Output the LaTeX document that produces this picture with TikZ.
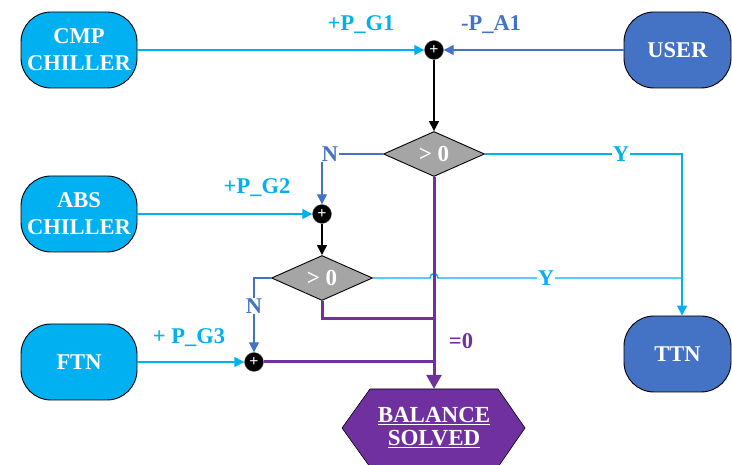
\documentclass[tikz,border=0pt]{standalone}
\usepackage{fontspec}
\setmainfont{Liberation Serif}
\usetikzlibrary{shapes.geometric,arrows.meta}
\definecolor{cyanc}{HTML}{00B0F0}
\definecolor{bluec}{HTML}{4472C4}
\definecolor{purc}{HTML}{7030A0}
\definecolor{grayc}{HTML}{A5A5A5}
\tikzset{
  term/.style={draw=black, line width=0.9pt, rounded corners=30pt, minimum width=116pt, minimum height=76pt,
    inner sep=0pt, align=center, text=white, font=\bfseries\fontsize{22.5}{27}\selectfont},
  cterm/.style={term, fill=cyanc},
  bterm/.style={term, fill=bluec},
  dec/.style={diamond, draw=black, line width=0.9pt, fill=grayc, aspect=2.24, minimum width=101pt, minimum height=45pt,
    inner sep=0pt, text=white, font=\bfseries\fontsize{23}{26}\selectfont},
  sumc/.style={circle, fill=black, draw=black!60, line width=0.4pt, minimum size=19pt, inner sep=0pt, text=white,
    font=\bfseries\fontsize{16}{16}\selectfont},
  lbl/.style={inner sep=1pt, font=\bfseries\fontsize{22.5}{26}\selectfont},
  thin/.style={line width=1.4pt, -{Triangle[length=10pt,width=10pt]}},
  thick/.style={line width=3pt, draw=purc},
}
\begin{document}
\begin{tikzpicture}[x=1pt,y=-1pt]
\useasboundingbox (0,0) rectangle (732,465);
% terminals
\node[cterm] (cmp) at (79,50) {CMP\\CHILLER};
\node[cterm] (abs) at (79,214) {ABS\\CHILLER};
\node[cterm] (ftn) at (79,362) {FTN};
\node[bterm, minimum width=107pt] (user) at (677.5,50) {USER};
\node[bterm, minimum width=107pt] (ttn) at (677.5,354) {TTN};
% sums
\node[sumc] (s1) at (434,50) {+};
\node[sumc] (s2) at (322,214) {+};
\node[sumc] (s3) at (254,362) {+};
% decisions
\node[dec] (d1) at (434,154) {> 0};
\node[dec] (d2) at (322,278) {> 0};
% balance
\node[minimum width=183pt, minimum height=78pt, inner sep=0pt] (bal) at (434,428) {};
\fill[purc, draw=black, line width=0.6pt] (370,389) -- (498,389) -- (525,428) -- (498,467) -- (370,467) -- (342,428) -- cycle;
\node[align=center, text=white, font=\bfseries\fontsize{23}{24}\selectfont] (baltxt) at (434,428) {\underline{BALANCE}\\[-1pt]\underline{SOLVED}};
% connectors
\draw[thin, cyanc] (cmp.east) -- (s1.west);
\draw[thin, bluec] (user.west) -- (s1.east);
\draw[thin, black] (s1.south) -- (d1.north);
\draw[thin, bluec] (d1.west) -- (322,154) -- (s2.north);
\draw[thin, cyanc] (d1.east) -- (682,154) -- (ttn.north -| 682,0);
\draw[thin, cyanc] (abs.east) -- (s2.west);
\draw[thin, black] (s2.south) -- (d2.north);
\draw[thin, bluec] (d2.west) -- (254,278) -- (s3.north);
\draw[line width=1.4pt, cyanc] (d2.east) -- (430,278) .. controls (430,272) and (438,272) .. (438,278) -- (682,278);
\draw[thin, cyanc] (ftn.east) -- (s3.west);
\draw[thick] (d2.south) -- (322,319) -- (434,319);
\draw[thick] (s3.east) -- (434,362);
\draw[thick, -{Triangle[length=14pt,width=15pt]}] (d1.south) -- (bal.north);
% labels
\node[lbl, text=cyanc] (lg1) at (361,25) {+P\_G1};
\node[lbl, text=bluec] (la1) at (491,25) {-P\_A1};
\node[lbl, text=cyanc] (lg2) at (257,188) {+P\_G2};
\node[lbl, text=cyanc] (lg3) at (189,338) {+ P\_G3};
\node[lbl, text=bluec, fill=white] (n1) at (330,154) {N};
\node[lbl, text=bluec, fill=white] (n2) at (254,306) {N};
\node[lbl, text=cyanc, fill=white] (y1) at (621,154) {Y};
\node[lbl, text=cyanc, fill=white] (y2) at (546,278) {Y};
\node[lbl, text=purc] (eq0) at (461,341) {=0};
\end{tikzpicture}
\end{document}
